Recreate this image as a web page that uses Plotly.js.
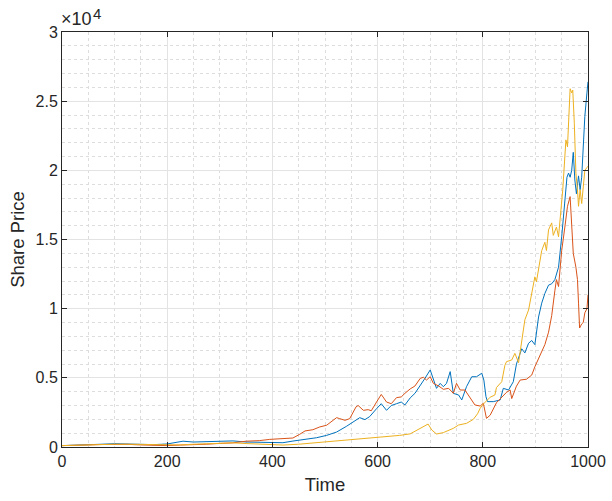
<!DOCTYPE html>
<html>
<head>
<meta charset="utf-8">
<script src="https://cdn.plot.ly/plotly-3.0.1.min.js"></script>
<style>html,body{margin:0;padding:0;background:#fff;}#chart{width:612px;height:501px;}</style>
</head>
<body>
<div id="chart"></div>
<script>
// Values in thousands (x10^3)
const tBlue = [0,25,50,75,100,125,150,175,200,215,230,250,275,300,325,350,375,400,420,439,458,484,503,522,541,554,566,576,585,598,607,617,626,636,645,652,662,671,681,690,700,706,712,719,725,731,738,744,754,760,769,779,788,798,802,806,809,820,833,839,849,858,864,874,880,887,893,899,906,912,918,925,931,937,944,950,956,960,963,966,969,972,975,978,982,985,988,991,994,998,1000];
const blue = [0.10,0.12,0.18,0.20,0.24,0.22,0.18,0.17,0.22,0.30,0.42,0.36,0.38,0.40,0.44,0.36,0.33,0.30,0.31,0.43,0.53,0.67,0.84,1.08,1.50,1.80,2.12,1.98,2.20,2.77,3.13,2.65,3.00,3.13,3.25,3.04,3.55,3.88,4.50,4.96,5.57,4.84,4.24,4.60,4.36,4.60,5.45,3.88,3.76,3.40,4.36,5.08,5.08,5.33,4.84,3.64,3.28,3.28,3.40,4.24,4.12,4.72,6.0,7.1,6.8,7.5,7.7,7.4,9.4,10.4,11.1,11.7,11.8,12.1,13.0,15.2,18.1,19.5,19.8,19.5,20.0,21.3,19.3,18.3,19.6,18.6,19.5,21.7,23.9,25.6,26.4];

const tOrange = [0,25,50,75,100,125,150,175,200,225,250,275,300,325,350,375,395,420,439,452,462,477,490,503,512,522,528,538,547,559,563,573,582,588,598,607,617,626,636,645,652,662,671,681,687,693,700,706,716,725,735,744,750,757,766,776,785,795,801,807,814,826,836,845,852,855,864,871,883,893,899,906,912,918,925,931,937,940,944,950,956,961,966,969,972,977,980,982,984,988,991,994,998,1000];
const orange = [0.10,0.10,0.15,0.18,0.20,0.19,0.15,0.12,0.10,0.14,0.15,0.20,0.26,0.30,0.42,0.46,0.55,0.58,0.65,0.92,1.16,1.25,1.45,1.57,1.80,2.12,2.05,1.93,2.05,2.90,3.00,2.65,2.70,2.62,3.25,3.80,3.25,3.13,3.57,3.62,3.88,4.20,4.41,4.96,5.04,4.84,5.08,4.60,4.41,4.17,4.24,3.88,4.60,4.12,4.12,3.52,3.04,2.96,3.16,2.07,2.30,3.20,3.60,3.95,4.12,3.50,4.40,4.84,4.90,5.20,5.80,6.40,6.80,7.40,8.3,9.5,11.3,12.1,11.6,14.2,15.9,17.4,18.1,16.4,14.0,13.0,12.1,10.4,8.6,8.9,9.0,9.7,10.0,11.0];

const tYellow = [0,25,50,75,100,125,150,175,200,225,250,275,300,325,350,375,400,420,450,484,520,547,580,598,611,642,662,681,690,696,703,712,725,744,754,769,782,790,795,801,814,823,826,836,842,845,855,861,868,877,880,887,893,899,902,912,918,921,925,931,934,940,944,947,952,954,958,961,964,966,969,971,974,975,977,980,982,985,988,991,994,998,1000];
const yellow = [0.10,0.13,0.17,0.15,0.20,0.20,0.18,0.20,0.18,0.15,0.20,0.23,0.28,0.30,0.25,0.20,0.13,0.14,0.20,0.31,0.42,0.53,0.62,0.67,0.72,0.84,0.95,1.35,1.50,1.66,1.23,0.94,1.04,1.35,1.59,1.71,2.00,2.40,2.80,3.10,3.60,3.76,4.30,4.72,5.90,6.17,6.29,6.77,6.10,8.70,9.20,9.90,11.1,12.3,11.95,14.2,14.8,14.2,15.7,16.2,15.3,15.9,15.2,16.4,18.6,19.8,22.2,21.7,24.6,25.9,25.6,25.8,23.4,21.2,19.8,18.6,17.4,18.6,17.6,18.8,20.0,20.2,20.3];

const yTickVals = [0,5000,10000,15000,20000,25000,30000];
const yTickText = ['0','0.5','1','1.5','2','2.5','3'];
const xTickVals = [0,200,400,600,800,1000];

const scale = v => v.map(d => d * 1000);
const font = 'Liberation Sans, Arial, Helvetica, sans-serif';

const traces = [
  {x: tBlue, y: scale(blue), type: 'scatter', mode: 'lines', line: {color: '#0072BD', width: 1}},
  {x: tOrange, y: scale(orange), type: 'scatter', mode: 'lines', line: {color: '#D95319', width: 1}},
  {x: tYellow, y: scale(yellow), type: 'scatter', mode: 'lines', line: {color: '#EDB120', width: 1}}
];

const axisCommon = {
  showline: true, linecolor: '#262626', linewidth: 1, mirror: 'ticks',
  ticks: 'inside', ticklen: 5, tickcolor: '#262626', tickwidth: 1,
  showgrid: true, gridcolor: '#e3e3e3', gridwidth: 1,
  zeroline: false, tickfont: {family: font, size: 16, color: '#262626'}
};

const layout = {
  width: 612, height: 501,
  margin: {l: 62, r: 24, t: 32, b: 54},
  paper_bgcolor: '#ffffff', plot_bgcolor: '#ffffff',
  showlegend: false,
  xaxis: Object.assign({}, axisCommon, {
    range: [0, 1000], tickvals: xTickVals,
    minor: {dtick: 50, showgrid: true, griddash: 'dot', gridcolor: '#dddddd', gridwidth: 1},
    title: {text: 'Time', font: {family: font, size: 18.5, color: '#262626'}, standoff: 8}
  }),
  yaxis: Object.assign({}, axisCommon, {
    range: [0, 30000], tickvals: yTickVals, ticktext: yTickText,
    minor: {dtick: 1000, showgrid: true, griddash: 'dot', gridcolor: '#dddddd', gridwidth: 1},
    title: {text: 'Share Price', font: {family: font, size: 18.5, color: '#262626'}, standoff: 6}
  }),
  annotations: [
    {xref: 'paper', yref: 'paper', x: 0, y: 1, xanchor: 'left', yanchor: 'bottom',
     text: '×10', showarrow: false, font: {family: font, size: 18, color: '#262626'}, xshift: -3, yshift: 1},
    {xref: 'paper', yref: 'paper', x: 0, y: 1, xanchor: 'left', yanchor: 'bottom',
     text: '4', showarrow: false, font: {family: font, size: 15, color: '#262626'}, xshift: 29, yshift: 8}
  ]
};

Plotly.newPlot('chart', traces, layout, {staticPlot: true, displayModeBar: false});
</script>
</body>
</html>
